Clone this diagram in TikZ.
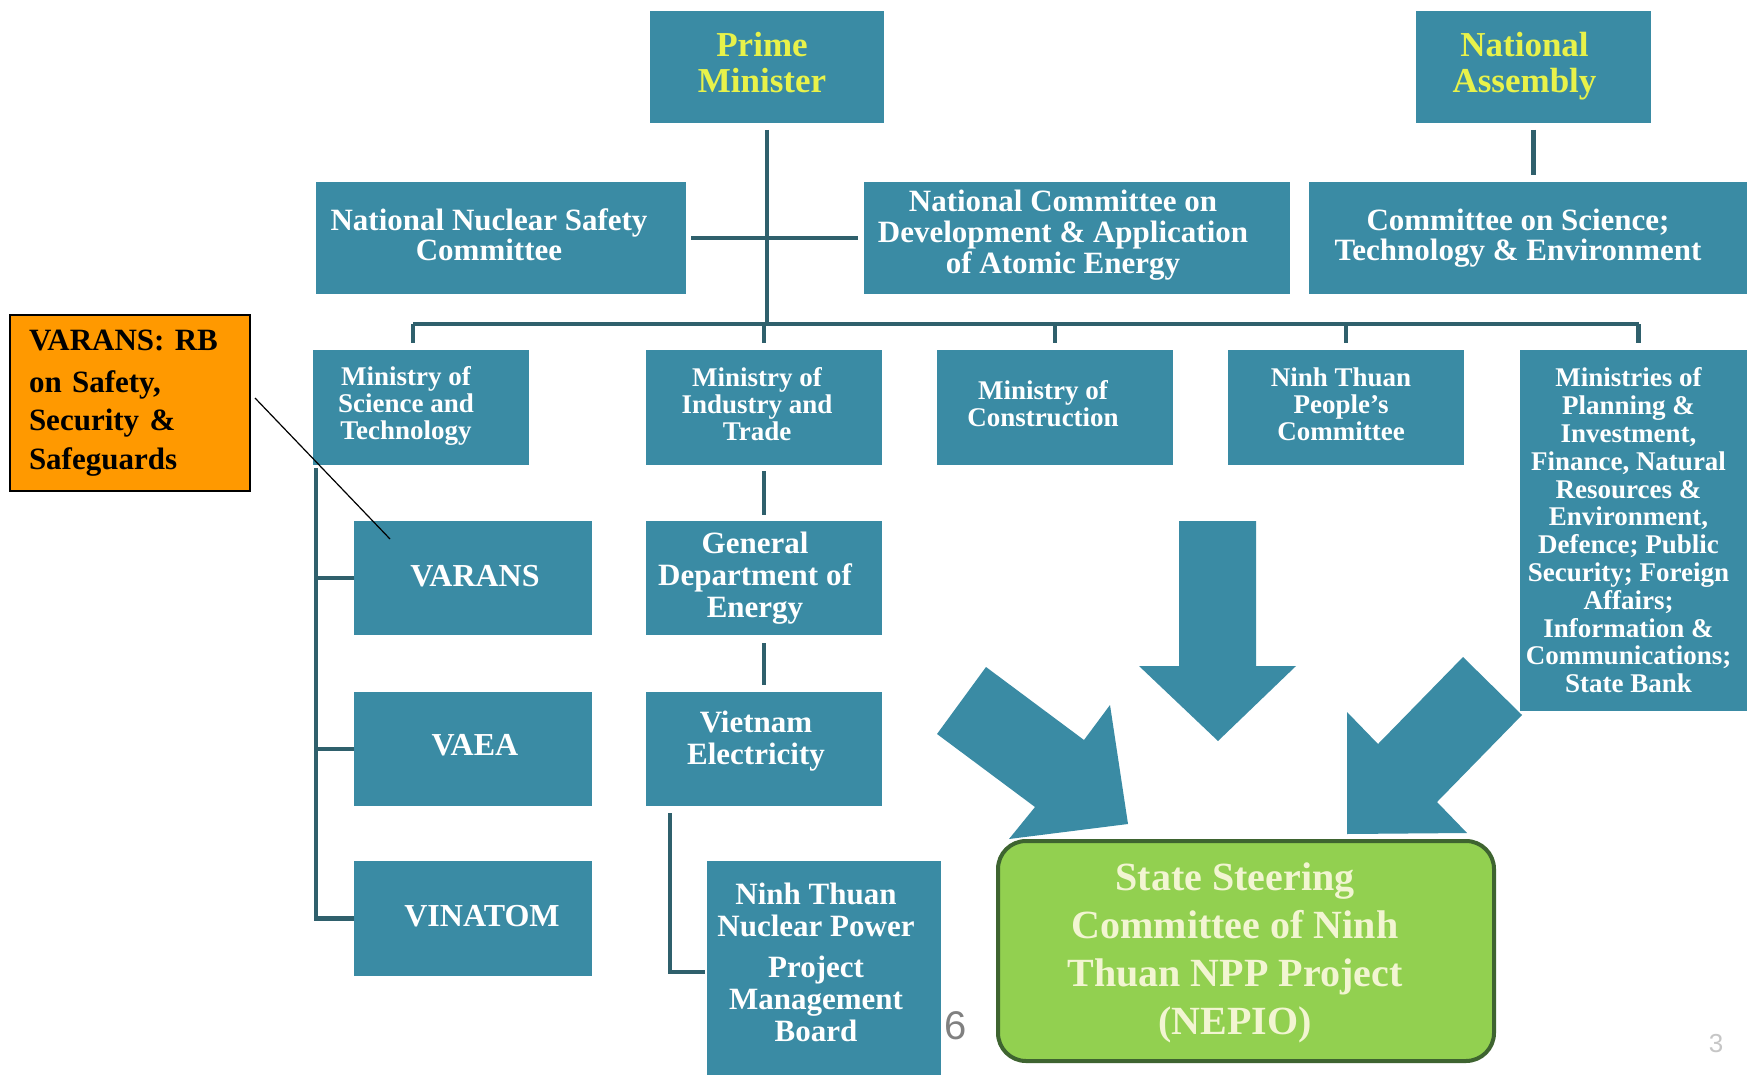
\documentclass[tikz,border=0pt]{standalone}
\usepackage{fontspec}
\setmainfont{Liberation Serif}
\setsansfont{Liberation Sans}
\usetikzlibrary{calc}
\definecolor{boxteal}{RGB}{58,139,164}
\definecolor{linec}{RGB}{47,96,108}
\definecolor{pmyellow}{RGB}{232,242,74}
\definecolor{ngreen}{RGB}{146,208,80}
\definecolor{ngreenborder}{RGB}{62,100,48}
\definecolor{ntext}{RGB}{242,245,210}
\definecolor{callorange}{RGB}{255,153,0}
\newcommand{\fs}[2]{\fontsize{#1}{#2}\selectfont\bfseries}
\begin{document}
\begin{tikzpicture}[x=1pt,y=-1pt,
  tbox/.style={fill=boxteal, draw=none, inner sep=0pt, outer sep=0pt, anchor=north west},
  txt/.style={inner sep=0pt, outer sep=0pt, text=white, align=center},
  conn/.style={draw=linec, line width=4.5pt},
  blockarrow/.style={fill=boxteal, draw=none},
  callbox/.style={fill=callorange, draw=black, line width=1.6pt, anchor=north west, inner xsep=19pt, inner ysep=0pt, outer sep=0pt, text width=202pt, align=left, minimum height=176pt, text=black}
]
\useasboundingbox (0,0) rectangle (1747,1075);
\fill[white] (0,0) rectangle (1747,1075);

% ---------- boxes ----------
\node[tbox, minimum width=234pt, minimum height=112pt] (pm) at (650,11) {};
\node[tbox, minimum width=235pt, minimum height=112pt] (na) at (1416,11) {};
\node[tbox, minimum width=370pt, minimum height=112pt] (nnsc) at (316,182) {};
\node[tbox, minimum width=426pt, minimum height=112pt] (ncd) at (864,182) {};
\node[tbox, minimum width=438pt, minimum height=112pt] (cste) at (1309,182) {};
\node[tbox, minimum width=216pt, minimum height=115pt] (mst) at (313,350) {};
\node[tbox, minimum width=236pt, minimum height=115pt] (moit) at (646,350) {};
\node[tbox, minimum width=236pt, minimum height=115pt] (moc) at (937,350) {};
\node[tbox, minimum width=236pt, minimum height=115pt] (ntpc) at (1228,350) {};
\node[tbox, minimum width=227pt, minimum height=361pt] (mins) at (1520,350) {};
\node[tbox, minimum width=238pt, minimum height=114pt] (varans) at (354,521) {};
\node[tbox, minimum width=238pt, minimum height=114pt] (vaea) at (354,692) {};
\node[tbox, minimum width=238pt, minimum height=115pt] (vinatom) at (354,861) {};
\node[tbox, minimum width=236pt, minimum height=114pt] (gde) at (646,521) {};
\node[tbox, minimum width=236pt, minimum height=114pt] (ve) at (646,692) {};
\node[tbox, minimum width=234pt, minimum height=214pt] (ntn) at (707,861) {};
\node[fill=ngreen, draw=ngreenborder, line width=4pt, rounded corners=28pt, anchor=north west, outer sep=0pt, minimum width=496pt, minimum height=220pt] (nepio) at (998,841) {};

% ---------- texts ----------
\node[txt, text=pmyellow, font=\fs{35}{36}] (pmT) at ([xshift=-5pt,yshift=4pt]pm.center) {Prime\\Minister};
\node[txt, text=pmyellow, font=\fs{35}{36}] (naT) at ([xshift=-9pt,yshift=1pt]na.center) {National\\Assembly};
\node[txt, font=\fs{31}{30}] (nnscT) at ([xshift=-12pt,yshift=3pt]nnsc.center) {National Nuclear Safety\\Committee};
\node[txt, font=\fs{31}{31}] (ncdT) at ([xshift=-14pt,yshift=3pt]ncd.center) {National Committee on\\Development \& Application\\of Atomic Energy};
\node[txt, font=\fs{31}{30}] (csteT) at ([xshift=-10pt]cste.center) {Committee on Science;\\Technology \& Environment};
\node[txt, font=\fs{27}{27}] (mstT) at ([xshift=-15pt,yshift=2pt]mst.center) {Ministry of\\Science and\\Technology};
\node[txt, font=\fs{27}{27}] (moitT) at ([xshift=-7pt,yshift=3pt]moit.center) {Ministry of\\Industry and\\Trade};
\node[txt, font=\fs{27}{27}] (mocT) at ([xshift=-12pt,yshift=4pt]moc.center) {Ministry of\\Construction};
\node[txt, font=\fs{27}{27}] (ntpcT) at ([xshift=-5pt,yshift=3pt]ntpc.center) {Ninh Thuan\\People's\\Committee};
\node[txt, font=\fs{27}{27.8}] (minsT) at ([xshift=-5pt]mins.center) {Ministries of\\Planning \&\\Investment,\\Finance, Natural\\Resources \&\\Environment,\\Defence; Public\\Security; Foreign\\Affairs;\\Information \&\\Communications;\\State Bank};
\node[txt, font=\fs{32}{32}] (varansT) at ([xshift=2pt,yshift=2pt]varans.center) {VARANS};
\node[txt, font=\fs{32}{32}] (vaeaT) at ([xshift=2pt,yshift=4pt]vaea.center) {VAEA};
\node[txt, font=\fs{32}{32}] (vinatomT) at ([xshift=9pt,yshift=2pt]vinatom.center) {VINATOM};
\node[txt, font=\fs{31}{32}] (gdeT) at ([xshift=-9pt]gde.center) {General\\Department of\\Energy};
\node[txt, font=\fs{31}{32}] (veT) at ([xshift=-8pt,yshift=8pt]ve.center) {Vietnam\\Electricity};
\node[txt, font=\fs{31}{32}] (ntnT) at ([xshift=-8pt,yshift=6pt]ntn.center) {Ninh Thuan\\Nuclear Power\\[9pt]Project\\Management\\Board};
\node[txt, text=ntext, font=\fs{40}{48}] (nepioT) at ([xshift=-11pt,yshift=-2pt]nepio.center) {State Steering\\Committee of Ninh\\Thuan NPP Project\\(NEPIO)};

% callout
\node[callbox, font=\fs{31}{38.6}] (callout) at (10,315) {\vspace*{3pt}VARANS: RB\\on Safety,\\Security \&\\Safeguards};

% ---------- connectors ----------
\coordinate (bus) at (0,324);
\draw[conn] ([yshift=-7pt]pm.south) -- (pm.south |- bus);
\draw[conn] ([xshift=-8pt]mst.north |- bus) -- ([xshift=5pt]mins.north |- bus);
\foreach \n/\dx in {mst/-8pt,moit/0pt,moc/0pt,ntpc/0pt,mins/5pt}{
  \draw[conn] ([xshift=\dx]\n.north |- bus) -- ([xshift=\dx,yshift=7pt]\n.north);
}
\draw[conn] ([xshift=5pt]nnsc.east) -- ([xshift=-6pt]ncd.west);
\draw[conn] ([yshift=-7pt]na.south) -- ([yshift=7pt]na.south |- cste.north);

\coordinate (rail) at ([xshift=3pt,yshift=-3pt]mst.south west);
\draw[conn] (rail) |- (vinatom.west);
\draw[conn] (rail |- varans.west) -- (varans.west);
\draw[conn] (rail |- vaea.west) -- (vaea.west);

\draw[conn] ([yshift=-6pt]moit.south) -- ([yshift=6pt]gde.north);
\draw[conn] ([yshift=-8pt]gde.south) -- ([yshift=7pt]ve.north);
\coordinate (vedrop) at ([xshift=24pt,yshift=-7pt]ve.south west);
\draw[conn] (vedrop) |- ([xshift=-2pt,yshift=-4pt]ntn.west);

% callout leader
\draw[black, line width=1.2pt] ([xshift=5pt,yshift=5pt]callout.east) -- ([xshift=36pt,yshift=-18pt]varans.north west);

% ---------- block arrows ----------
\fill[blockarrow] (986,667) -- (1084,740) -- (1110,705) -- (1128,824) -- (1009,839) -- (1035,807) -- (937,734) -- cycle;
\fill[blockarrow] (1179,521) -- (1256,521) -- (1256,666) -- (1296,666) -- (1218,741) -- (1139,666) -- (1179,666) -- cycle;
\fill[blockarrow] (1463,657) -- (1522,715) -- (1437,802) -- (1467,833) -- (1347,834) -- (1347,712) -- (1378,744) -- cycle;

% ---------- page numbers ----------
\node[text=gray, font=\sffamily\fontsize{40}{40}\selectfont] (pgsix) at (956,1026) {6};
\node[text=gray!45, font=\sffamily\fontsize{26}{26}\selectfont] (pgthree) at (1716,1044) {3};
\end{tikzpicture}
\end{document}
